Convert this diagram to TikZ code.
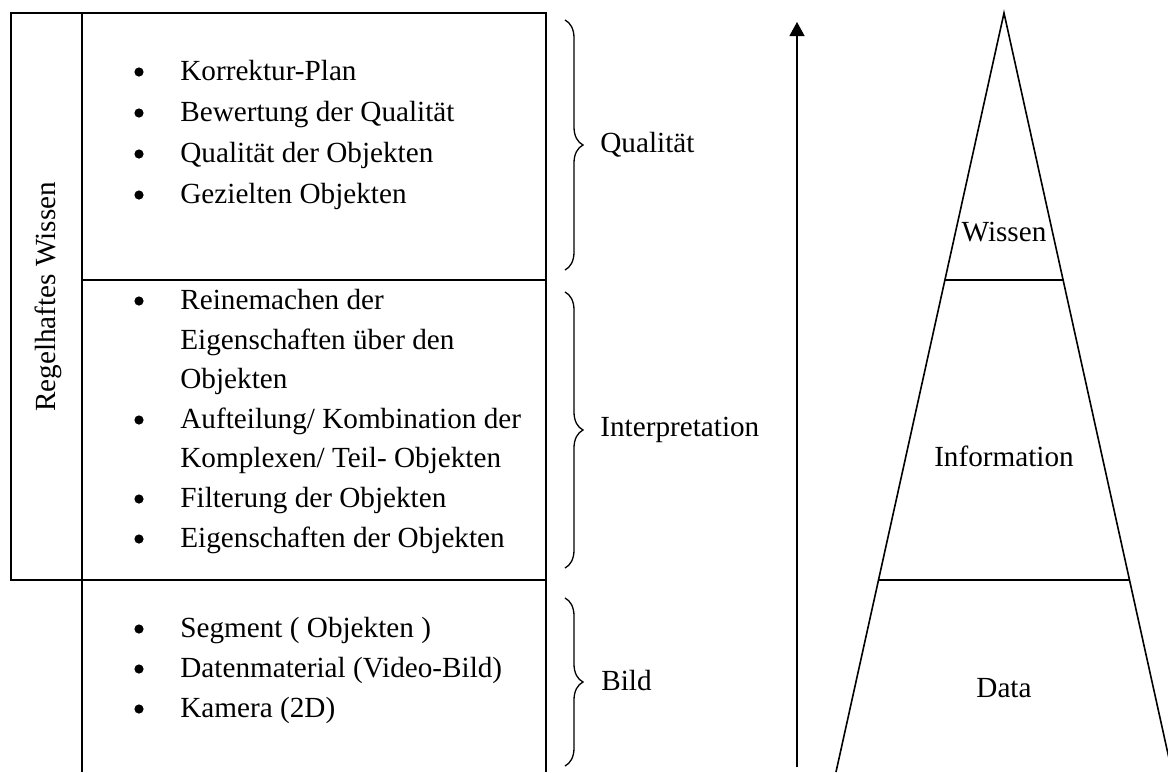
\documentclass[tikz,border=0pt]{standalone}
\usepackage{fontspec}
\setmainfont{Liberation Serif}
\usetikzlibrary{arrows.meta,decorations.pathreplacing,calc}
\begin{document}
\begin{tikzpicture}[
    x=0.5pt, y=-0.5pt,
    font=\fontsize{14.6}{17}\selectfont,
    box/.style={line width=0.9pt},
    item/.style={anchor=base west, inner sep=0pt},
    dot/.style={anchor=base, inner sep=0pt},
    bul/.style={circle, fill=black, inner sep=0pt, minimum size=4.6pt},
    curly/.style={decorate, decoration={brace, amplitude=9pt, aspect=0.5}, line width=0.65pt},
    >={Triangle[width=7.5pt,length=7pt]}
]
    \clip (0,0) rectangle (1168,772);
    \fill[white] (0,0) rectangle (1168,772);

    % --- Boxes ---
    \draw[box] (11,13) rectangle (82,580);
    \draw[box] (82,13) rectangle (546,280);
    \draw[box] (82,280) rectangle (546,580);
    \draw[box] (82,580) -- (82,772) (546,580) -- (546,772);

    \node[rotate=90] (regel) at (48,297) {Regelhaftes Wissen};

    % --- Bullets ---
    \foreach \y in {80,121,162,203,309,428,507,547,637,677,717}
        \node[bul] at (139,\y-8) {};

    % Top box
    \node[item] (korr) at (180,80) {Korrektur-Plan};
    \node[item] (bew)  at (180,121) {Bewertung der Qualität};
    \node[item] (qual) at (180,162) {Qualität der Objekten};
    \node[item] (gez)  at (180,203) {Gezielten Objekten};

    % Middle box
    \node[item] (rein) at (180,309) {Reinemachen der};
    \node[item] (eig1) at (180,349) {Eigenschaften über den};
    \node[item] (obj)  at (180,388) {Objekten};
    \node[item] (auf)  at (180,428) {Aufteilung/ Kombination der};
    \node[item] (komp) at (180,467) {Komplexen/ Teil- Objekten};
    \node[item] (filt) at (180,507) {Filterung der Objekten};
    \node[item] (eig2) at (180,547) {Eigenschaften der Objekten};

    % Bottom box
    \node[item] (seg)  at (180,637) {Segment ( Objekten )};
    \node[item] (dat)  at (180,677) {Datenmaterial (Video-Bild)};
    \node[item] (kam)  at (180,717) {Kamera (2D)};

    % --- Braces ---
    \coordinate (qtop) at (565,20);  \coordinate (qbot) at (565,270);
    \coordinate (itop) at (565,292); \coordinate (ibot) at (565,568);
    \coordinate (btop) at (565,598); \coordinate (bbot) at (565,766);
    \draw[curly] (qtop) -- (qbot);
    \draw[curly] (itop) -- (ibot);
    \draw[curly] (btop) -- (bbot);

    \node[item] (qlbl) at (600,152) {Qualität};
    \node[item] (ilbl) at (600,436) {Interpretation};
    \node[item] (blbl) at (601,690) {Bild};

    % --- Arrow ---
    \coordinate (arrlow) at (797,767);
    \coordinate (arrtip) at (797,22);
    \draw[->, line width=0.65pt] (arrlow) -- (arrtip);

    % --- Pyramid ---
    \coordinate (apex) at (1004,13);
    \coordinate (lbase) at (836,772);
    \coordinate (rbase) at (1172,772);
    \draw[line width=0.8pt] (lbase) -- (apex) -- (rbase);
    \draw[line width=0.8pt] ($(apex)!{267/759}!(lbase)$) -- ($(apex)!{267/759}!(rbase)$);
    \draw[line width=0.8pt] ($(apex)!{567/759}!(lbase)$) -- ($(apex)!{567/759}!(rbase)$);

    \node[dot] (wis)  at (1004,241) {Wissen};
    \node[dot] (info) at (1004,466) {Information};
    \node[dot] (data) at (1004,697) {Data};

\end{tikzpicture}
\end{document}
